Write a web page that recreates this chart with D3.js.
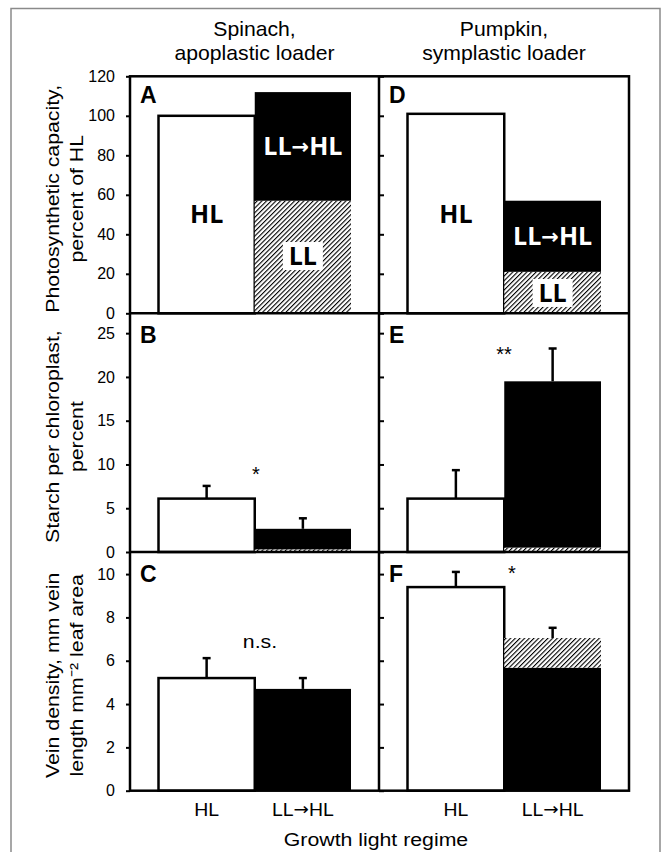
<!DOCTYPE html>
<html>
<head>
<meta charset="utf-8">
<script src="https://cdn.jsdelivr.net/npm/d3@7"></script>
<style>
  body { margin: 0; background: #fff; }
  text { font-family: "Liberation Sans", Arial, sans-serif; fill: #000; }
</style>
</head>
<body>
<svg width="665" height="852"></svg>
<script>
// categories
const groups = ["HL", "LL\u2192HL"];
const species = [["Spinach,", "apoplastic loader"], ["Pumpkin,", "symplastic loader"]];
// photosynthetic capacity, percent of HL (A, D)
const photoHL = [100, 101];
const photoLL = [57, 21];
const photoLLHL = [112, 57];
// starch per chloroplast, percent (B, E)
const starchHL = [6.1, 6.1];
const starchHLErr = [7.55, 9.35];
const starchLL = [0.3, 0.5];
const starchLLHL = [2.65, 19.5];
const starchLLHLErr = [3.85, 23.25];
// vein density (C, F)
const veinHL = [5.2, 9.4];
const veinHLErr = [6.12, 10.1];
const veinLLHLBase = [4.7, 5.68];
const veinLLHL = [4.7, 7.05];
const veinLLHLErr = [5.2, 7.52];
// axis ticks
const ticksA = [0, 20, 40, 60, 80, 100, 120];
const ticksB = [0, 5, 10, 15, 20, 25];
const ticksC = [0, 2, 4, 6, 8, 10];
const letters = [["A", "D"], ["B", "E"], ["C", "F"]];
const marks = [["", ""], ["*", "**"], ["n.s.", "*"]];

const svg = d3.select("svg");

// hatch pattern
const defs = svg.append("defs");
const pat = defs.append("pattern")
  .attr("id", "hatch")
  .attr("patternUnits", "userSpaceOnUse")
  .attr("width", 3.3).attr("height", 3.3)
  .attr("patternTransform", "rotate(45)");
pat.append("rect").attr("width", 3.3).attr("height", 3.3).attr("fill", "#fff");
pat.append("line").attr("x1", 0).attr("y1", 0).attr("x2", 0).attr("y2", 3.3)
  .attr("stroke", "#000").attr("stroke-width", 2.2);

// outer grey frame
svg.append("path")
  .attr("d", "M11,870 L11,8.5 L660,8.5 L660,870")
  .attr("fill", "none").attr("stroke", "#8a8a8a").attr("stroke-width", 1.5);

// layout
const cols = [{ left: 130, right: 379 }, { left: 379, right: 629 }];
const rows = [
  { top: 76.3, bottom: 313.3, max: 120, ticks: ticksA },
  { top: 313.3, bottom: 552, max: 27.27, ticks: ticksB },
  { top: 552, bottom: 790.7, max: 11.02, ticks: ticksC }
];
rows.forEach(r => {
  r.y = d3.scaleLinear().domain([0, r.max]).range([r.bottom, r.top]);
});
cols.forEach(c => {
  c.x = d3.scaleBand().domain(groups).range([c.left + 28.5, c.right - 28]).padding(0);
});

function txt(x, y, s, size, opts = {}) {
  const sx = opts.sx || 1;
  const rot = opts.rotate ? " rotate(-90)" : "";
  const t = svg.append("text")
    .attr("transform", `translate(${x},${y})${rot} scale(${sx},1)`)
    .attr("text-anchor", opts.anchor || "middle")
    .attr("font-size", size)
    .attr("font-weight", opts.bold ? "bold" : null)
    .style("font-family", opts.family || null)
    .style("fill", opts.fill || null);
  const parts = s.split("\u2192");
  if (parts.length === 1) return t.text(s);
  // bigger arrow glyph from DejaVu
  t.append("tspan").text(parts[0]);
  t.append("tspan").attr("font-size", opts.arrowSize || size * 0.85).attr("dy", -1)
    .style("font-family", '"DejaVu Sans", sans-serif').text("\u2192");
  t.append("tspan").attr("dy", 1).text(parts[1]);
  return t;
}

// segments per row/col: [category, from, to, fill]
function segments(r, c) {
  if (r === 0) return [
    ["HL", 0, photoHL[c], "#fff"],
    [groups[1], 0, photoLL[c], "url(#hatch)"],
    [groups[1], photoLL[c], photoLLHL[c], "#000"]
  ];
  if (r === 1) return [
    ["HL", 0, starchHL[c], "#fff"],
    [groups[1], 0, starchLL[c], "url(#hatch)"],
    [groups[1], starchLL[c], starchLLHL[c], "#000"]
  ];
  const s = [
    ["HL", 0, veinHL[c], "#fff"],
    [groups[1], 0, veinLLHLBase[c], "#000"]
  ];
  if (veinLLHL[c] > veinLLHLBase[c]) s.push([groups[1], veinLLHLBase[c], veinLLHL[c], "url(#hatch)"]);
  return s;
}
function errors(r, c) {
  if (r === 1) return [["HL", starchHL[c], starchHLErr[c]], [groups[1], starchLLHL[c], starchLLHLErr[c]]];
  if (r === 2) return [["HL", veinHL[c], veinHLErr[c]], [groups[1], veinLLHL[c], veinLLHLErr[c]]];
  return [];
}

rows.forEach((row, ri) => {
  cols.forEach((col, ci) => {
    const g = svg.append("g");
    const y = row.y, x = col.x;
    // error bars first (behind bars)
    errors(ri, ci).forEach(([k, v, e]) => {
      const cx = x(k) + x.bandwidth() / 2;
      g.append("line").attr("x1", cx).attr("x2", cx).attr("y1", y(v)).attr("y2", y(e))
        .attr("stroke", "#000").attr("stroke-width", 2.5);
      g.append("line").attr("x1", cx - 4).attr("x2", cx + 4).attr("y1", y(e)).attr("y2", y(e))
        .attr("stroke", "#000").attr("stroke-width", 2.5);
    });
    g.selectAll("rect.bar").data(segments(ri, ci)).join("rect")
      .attr("class", "bar")
      .attr("x", d => x(d[0]))
      .attr("width", x.bandwidth())
      .attr("y", d => y(d[2]))
      .attr("height", d => y(d[1]) - y(d[2]))
      .attr("fill", d => d[3])
      .attr("stroke", d => d[3] === "#fff" ? "#000" : "none")
      .attr("stroke-width", 2.5);

    // axis ticks
    if (ci === 0) {
      const ax = svg.append("g").attr("transform", `translate(${col.left},0)`)
        .call(d3.axisLeft(y).tickValues(row.ticks).tickSize(4).tickPadding(11).tickFormat(d3.format("d")));
      ax.select(".domain").remove();
      ax.selectAll("line").attr("stroke-width", 2);
      ax.selectAll("text").attr("font-size", 16).style("font-family", '"Liberation Sans", Arial, sans-serif');
    } else {
      const ax = svg.append("g").attr("transform", `translate(${col.left},0)`)
        .call(d3.axisRight(y).tickValues(row.ticks).tickSize(5).tickFormat(""));
      ax.select(".domain").remove();
      ax.selectAll("line").attr("stroke-width", 2);
    }

    // panel letter
    txt(col.left + 10, row.top + (ri === 0 ? 27 : 30), letters[ri][ci], 23, { anchor: "start", bold: true });
  });
});

// inner labels in panels A and D
const inner = { family: '"Open Sans", sans-serif', bold: true };
const yA = rows[0].y;
cols.forEach((col, ci) => {
  const x = col.x;
  const c0 = x("HL") + x.bandwidth() / 2;
  const c1 = x(groups[1]) + x.bandwidth() / 2;
  txt(c0, yA(50) + 8, "HL", 25, inner);
  const llhlMid = (photoLL[ci] + photoLLHL[ci]) / 2;
  txt(c1, yA(llhlMid) + 9, groups[1], 25, Object.assign({ fill: "#fff", arrowSize: 21 }, inner));
  const llMid = ci === 0 ? 29 : 10.3;
  svg.append("rect").attr("x", c1 - 20).attr("y", yA(llMid) - 14).attr("width", 40).attr("height", 28).attr("fill", "#fff");
  txt(c1, yA(llMid) + 9, "LL", 25, inner);
});

// significance marks
txt(256, 481, marks[1][0], 20);
txt(504, 361, marks[1][1], 20);
txt(260, 648, marks[2][0], 19, { sx: 1.12 });
txt(512, 580, marks[2][1], 20);

// frame lines
const fr = svg.append("g").attr("stroke", "#000").attr("stroke-width", 2.5).attr("fill", "none");
fr.append("rect").attr("x", 130).attr("y", 76.3).attr("width", 499).attr("height", 790.7 - 76.3);
fr.append("line").attr("x1", 379).attr("x2", 379).attr("y1", 76.3).attr("y2", 790.7);
fr.append("line").attr("x1", 130).attr("x2", 629).attr("y1", 313.3).attr("y2", 313.3);
fr.append("line").attr("x1", 130).attr("x2", 629).attr("y1", 552).attr("y2", 552);

// column titles
cols.forEach((col, ci) => {
  const cx = (col.left + col.right) / 2;
  txt(cx, 36, species[ci][0], 20, { sx: 1.06 });
  txt(cx, 60, species[ci][1], 20, { sx: 1.06 });
  // x labels
  groups.forEach(gk => {
    txt(col.x(gk) + col.x.bandwidth() / 2, 816, gk, 18, { sx: 1.08, arrowSize: 17 });
  });
});
txt(376, 846, "Growth light regime", 19, { sx: 1.12 });

// y titles
const yTitles = [
  ["Photosynthetic capacity,", "percent of HL"],
  ["Starch per chloroplast,", "percent"],
  ["Vein density, mm vein", "length mm\u207B\u00B2 leaf area"]
];
rows.forEach((row, ri) => {
  const cy = (row.top + row.bottom) / 2 + 4;
  txt(59, cy, yTitles[ri][0], 19, { rotate: true, sx: 1.12 });
  txt(83, cy, yTitles[ri][1], 19, { rotate: true, sx: 1.12 });
});
</script>
</body>
</html>
